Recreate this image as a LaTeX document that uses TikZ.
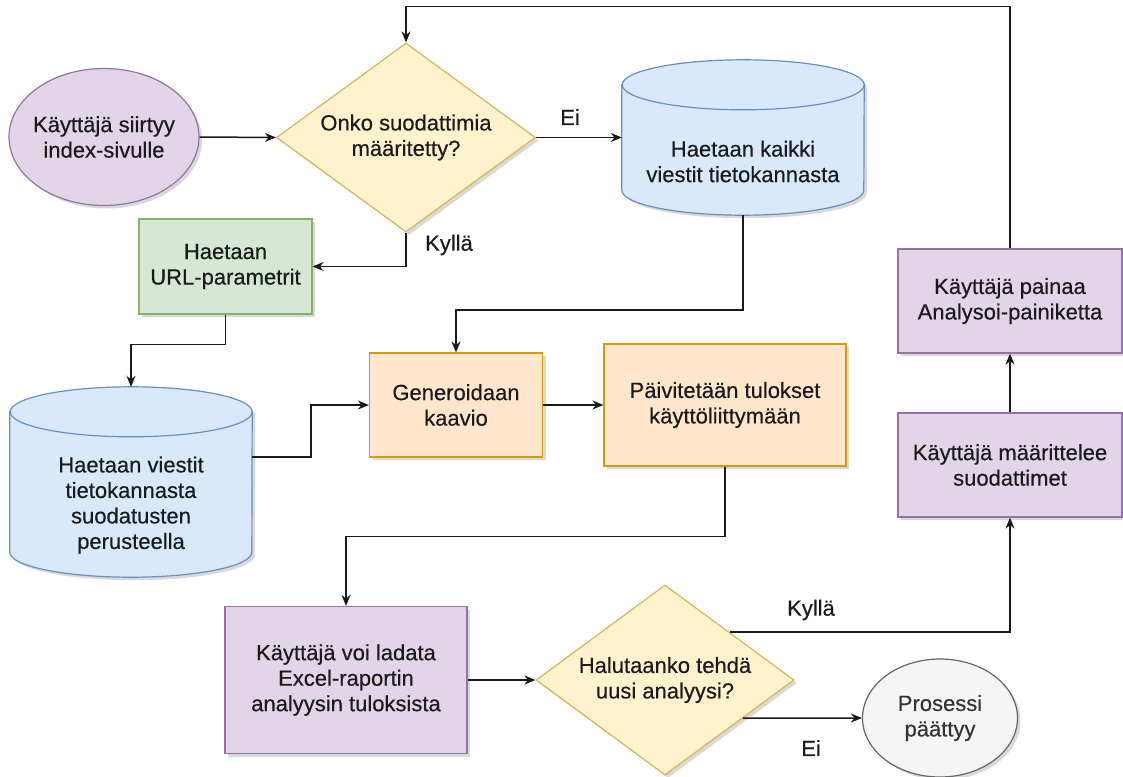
\documentclass[tikz,border=0pt]{standalone}
\usepackage{fontspec}
\setmainfont{Liberation Sans}
\newfontfamily\dfont{Liberation Sans}[FakeBold=0.35]
\usetikzlibrary{shapes.geometric,arrows.meta,shadows,calc}
\definecolor{purpf}{HTML}{E1D5E7}\definecolor{purpd}{HTML}{9673A6}
\definecolor{yelf}{HTML}{FFF2CC}\definecolor{yeld}{HTML}{D6B656}
\definecolor{bluf}{HTML}{DAE8FC}\definecolor{blud}{HTML}{6C8EBF}
\definecolor{grnf}{HTML}{D5E8D4}\definecolor{grnd}{HTML}{82B366}
\definecolor{orgf}{HTML}{FFE6CC}\definecolor{orgd}{HTML}{D79B00}
\definecolor{gryf}{HTML}{F5F5F5}\definecolor{gryd}{HTML}{666666}
\definecolor{txtc}{HTML}{1A1A1A}
\newcommand\fsz{\dfont\fontsize{22}{25.5}\selectfont}
\tikzset{
  shd/.style={drop shadow={shadow xshift=3pt,shadow yshift=-3pt,opacity=0.15,fill=black}},
  base/.style={draw, line width=1.2pt, shd, inner sep=0pt},
  txt/.style={font=\fsz, align=center, text=txtc},
  lbl/.style={font=\fsz, text=txtc, inner sep=0pt},
  purp/.style={fill=purpf, draw=purpd},
  yel/.style={fill=yelf, draw=yeld},
  grn/.style={fill=grnf, draw=grnd},
  org/.style={fill=orgf, draw=orgd},
  gry/.style={fill=gryf, draw=gryd},
  box/.style={base, rectangle, txt},
  dia/.style={base, diamond, yel},
  cylbox/.style={rectangle, inner sep=0pt},
  conn/.style={draw=black!90, line width=1.5pt, -{Stealth[length=11pt,width=9pt]}},
}
\newcommand\cylshape[3]{%
  \draw[fill=bluf, draw=blud, line width=1.2pt, shd]
    ([yshift=-#3]#1.north west) -- ([yshift=#3]#1.south west)
    arc[start angle=180,end angle=360,x radius=#2,y radius=#3]
    -- ([yshift=-#3]#1.north east)
    arc[start angle=0,end angle=180,x radius=#2,y radius=#3] -- cycle;
  \draw[draw=blud, line width=1.2pt]
    ([yshift=-#3]#1.north east) arc[start angle=0,end angle=-180,x radius=#2,y radius=#3];}
\begin{document}
\begin{tikzpicture}[x=1pt,y=-1pt]
\fill[white] (0,0) rectangle (1123,776);
\useasboundingbox (0,0) rectangle (1123,776);

% shapes
\node[base, ellipse, purp, minimum width=190pt, minimum height=137pt,
  label={[txt]center:{Käyttäjä siirtyy\\index-sivulle}}] (e1) at (104,137) {};
\node[dia, minimum width=259pt, minimum height=189pt,
  label={[txt]center:{Onko suodattimia\\määritetty?}}] (d1) at (406,137.5) {};

\node[cylbox, minimum width=242pt, minimum height=155pt] (c1) at (743,137.5) {};
\cylshape{c1}{121pt}{25pt}
\node[txt] (c1t) at ([yshift=-24pt]c1.center) {Haetaan kaikki\\viestit tietokannasta};

\node[box, grn, minimum width=173pt, minimum height=95pt] (g1) at (225.5,266.5) {Haetaan\\URL-parametrit};

\node[cylbox, minimum width=242pt, minimum height=190pt] (c2) at (131,482) {};
\cylshape{c2}{121pt}{25pt}
\node[txt] (c2t) at ([yshift=-23pt]c2.center) {Haetaan viestit\\tietokannasta\\suodatusten\\perusteella};

\node[box, org, minimum width=173pt, minimum height=104pt] (gen) at (456,405) {Generoidaan\\kaavio};
\node[box, org, minimum width=242pt, minimum height=122pt] (pai) at (725,405) {Päivitetään tulokset\\käyttöliittymään};

\node[box, purp, minimum width=224pt, minimum height=104pt] (ana) at (1010,301) {Käyttäjä painaa\\Analysoi-painiketta};
\node[box, purp, minimum width=224pt, minimum height=104pt] (maa) at (1010,465) {Käyttäjä määrittelee\\suodattimet};

\node[box, purp, minimum width=242pt, minimum height=147pt] (exc) at (346,680) {Käyttäjä voi ladata\\Excel-raportin\\analyysin tuloksista};
\node[dia, minimum width=258pt, minimum height=190pt,
  label={[txt]center:{Halutaanko tehdä\\uusi analyysi?}}] (d2) at (665,680) {};
\node[base, ellipse, gry, minimum width=155pt, minimum height=118pt,
  label={[txt, text=black!80]center:{Prosessi\\päättyy}}] (end) at (940,718) {};

% connectors
\draw[conn] (e1.east) -- (d1.west);
\draw[conn] (d1.east) -- (c1.west);
\node[lbl] (lei1) at (570,117) {Ei};
\draw[conn] (d1.south) |- (g1.east);
\node[lbl] (lky1) at (449,245) {Kyllä};
\draw[conn] (c1.south) -- ++(0,95) -| (gen.north);
\draw[conn] (g1.south) -- ++(0,30) -| (c2.north);
\draw[conn] ([yshift=25pt]c2.east) -- ++(59,0) |- (gen.west);
\draw[conn] (gen.east) -- (pai.west);
\draw[conn] (pai.south) -- ++(0,70) -| (exc.north);
\draw[conn] (exc.east) -- (d2.west);
\draw[conn] (d2.north east) -| (maa.south);
\node[lbl] (lky2) at (811,610) {Kyllä};
\coordinate (d2x) at ($(d2.east)!0.4!(d2.south)$);
\draw[conn] (d2x) -- (end.west);
\node[lbl] (lei2) at (811,748) {Ei};
\draw[conn] (maa.north) -- (ana.south);
\draw[conn] (ana.north) -- ++(0,-242) -| (d1.north);
\end{tikzpicture}
\end{document}
